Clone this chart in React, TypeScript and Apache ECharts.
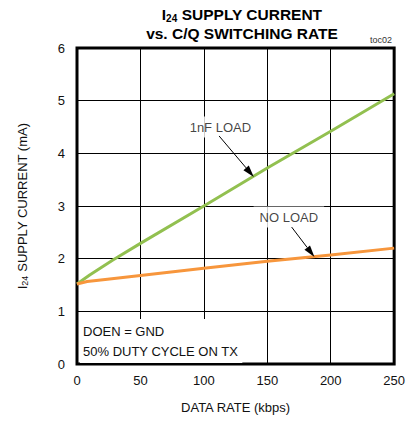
import React, { useEffect, useRef } from "react";
import * as echarts from "echarts";

const xTicks = [0, 50, 100, 150, 200, 250];
const loadX = [0, 10, 28, 50, 100, 150, 200, 250];
const loadY = [1.52, 1.69, 1.97, 2.29, 3.0, 3.72, 4.42, 5.13];
const noLoadX = [0, 8, 24, 50, 100, 150, 200, 250];
const noLoadY = [1.52, 1.565, 1.61, 1.68, 1.82, 1.95, 2.07, 2.2];
const labels = [
  { text: "1nF LOAD", x: 113, y: 4.5 },
  { text: "NO LOAD", x: 167, y: 2.79 },
];
const arrows = [
  [112, 4.33, 139.4, 3.55],
  [169.2, 2.6, 187.2, 2.03],
];

const FONT = "'Liberation Sans', Arial, sans-serif";

export default function App() {
  const ref = useRef<HTMLDivElement>(null);
  useEffect(() => {
    const chart = echarts.init(ref.current!, null, { renderer: "svg" });
    chart.setOption({
      animation: false,
      backgroundColor: "#fff",
      textStyle: { fontFamily: FONT },
      title: {
        text: "{a|I}{s|24}{a| SUPPLY CURRENT}\n{a|vs. C/Q SWITCHING RATE}",
        left: 237,
        textAlign: "center",
        top: 0,
        textStyle: {
          rich: {
            a: { fontSize: 15.5, fontWeight: "bold", color: "#000", fontFamily: FONT, lineHeight: 19 },
            s: { fontSize: 10, fontWeight: "bold", color: "#000", fontFamily: FONT, lineHeight: 19, padding: [7, 0, 0, 0] },
          },
        },
      },
      grid: { left: 77, right: 12, top: 48, bottom: 59, show: true, borderColor: "#000", borderWidth: 3, backgroundColor: "transparent" },
      xAxis: {
        type: "value",
        min: 0,
        max: 250,
        interval: 50,
        name: "DATA RATE (kbps)",
        nameLocation: "middle",
        nameGap: 37,
        nameTextStyle: { fontSize: 13, color: "#111", fontFamily: FONT },
        axisLine: { show: false },
        axisTick: { show: false },
        axisLabel: { fontSize: 13, color: "#111", margin: 10, fontFamily: FONT },
        splitLine: { show: true, lineStyle: { color: "#000", width: 1 } },
      },
      yAxis: {
        type: "value",
        min: 0,
        max: 6,
        interval: 1,
        name: "{a|I}{s|24}{a| SUPPLY CURRENT (mA)}",
        nameLocation: "middle",
        nameGap: 47,
        nameTextStyle: {
          rich: {
            a: { fontSize: 13, color: "#111", fontFamily: FONT, lineHeight: 16 },
            s: { fontSize: 9, color: "#111", fontFamily: FONT, lineHeight: 16, padding: [6, 0, 0, 0] },
          },
        },
        axisLine: { show: false },
        axisTick: { show: false },
        axisLabel: { fontSize: 13, color: "#111", margin: 12, fontFamily: FONT },
        splitLine: { show: true, lineStyle: { color: "#000", width: 1 } },
      },
      graphic: [
        {
          type: "text",
          right: 16,
          top: 35,
          z: 10,
          style: { text: "toc02", fontSize: 9, fill: "#333", fontFamily: FONT },
        },
        {
          type: "text",
          left: 80,
          top: 319,
          z: 10,
          style: {
            text: "DOEN = GND\n50% DUTY CYCLE ON TX",
            fontSize: 13,
            lineHeight: 20,
            fill: "#111",
            fontFamily: FONT,
            backgroundColor: "#fff",
            padding: [2, 4, 2, 3],
          },
        },
      ],
      series: [
        {
          type: "line",
          data: loadX.map((x, i) => [x, loadY[i]]),
          smooth: false,
          showSymbol: false,
          lineStyle: { color: "#92C050", width: 3, join: "round" },
          z: 3,
        },
        {
          type: "line",
          data: noLoadX.map((x, i) => [x, noLoadY[i]]),
          smooth: false,
          showSymbol: false,
          lineStyle: { color: "#F7963C", width: 3, join: "round" },
          z: 4,
        },
        {
          type: "scatter",
          data: labels.map((l) => ({ value: [l.x, l.y], name: l.text })),
          symbolSize: 1,
          itemStyle: { color: "transparent" },
          z: 6,
          label: {
            show: true,
            position: "inside",
            formatter: (p: any) => p.name,
            fontSize: 13,
            color: "#111",
            fontFamily: FONT,
            backgroundColor: "#fff",
            padding: [4, 6],
          },
        },
        {
          type: "custom",
          data: arrows,
          z: 7,
          renderItem: (params: any, api: any) => {
            const p1 = api.coord([api.value(0), api.value(1)]);
            const p2 = api.coord([api.value(2), api.value(3)]);
            const dx = p2[0] - p1[0];
            const dy = p2[1] - p1[1];
            const len = Math.sqrt(dx * dx + dy * dy);
            const ux = dx / len;
            const uy = dy / len;
            const hl = 12;
            const hw = 3.5;
            const bx = p2[0] - ux * hl;
            const by = p2[1] - uy * hl;
            return {
              type: "group",
              children: [
                { type: "line", shape: { x1: p1[0], y1: p1[1], x2: bx, y2: by }, style: { stroke: "#000", lineWidth: 1 } },
                {
                  type: "polygon",
                  shape: { points: [[p2[0], p2[1]], [bx - uy * hw, by + ux * hw], [bx + uy * hw, by - ux * hw]] },
                  style: { fill: "#000" },
                },
              ],
            };
          },
        },
      ],
    });
    return () => chart.dispose();
  }, []);
  return <div ref={ref} style={{ position: "fixed", left: 0, top: 0, width: 408, height: 423 }} />;
}
